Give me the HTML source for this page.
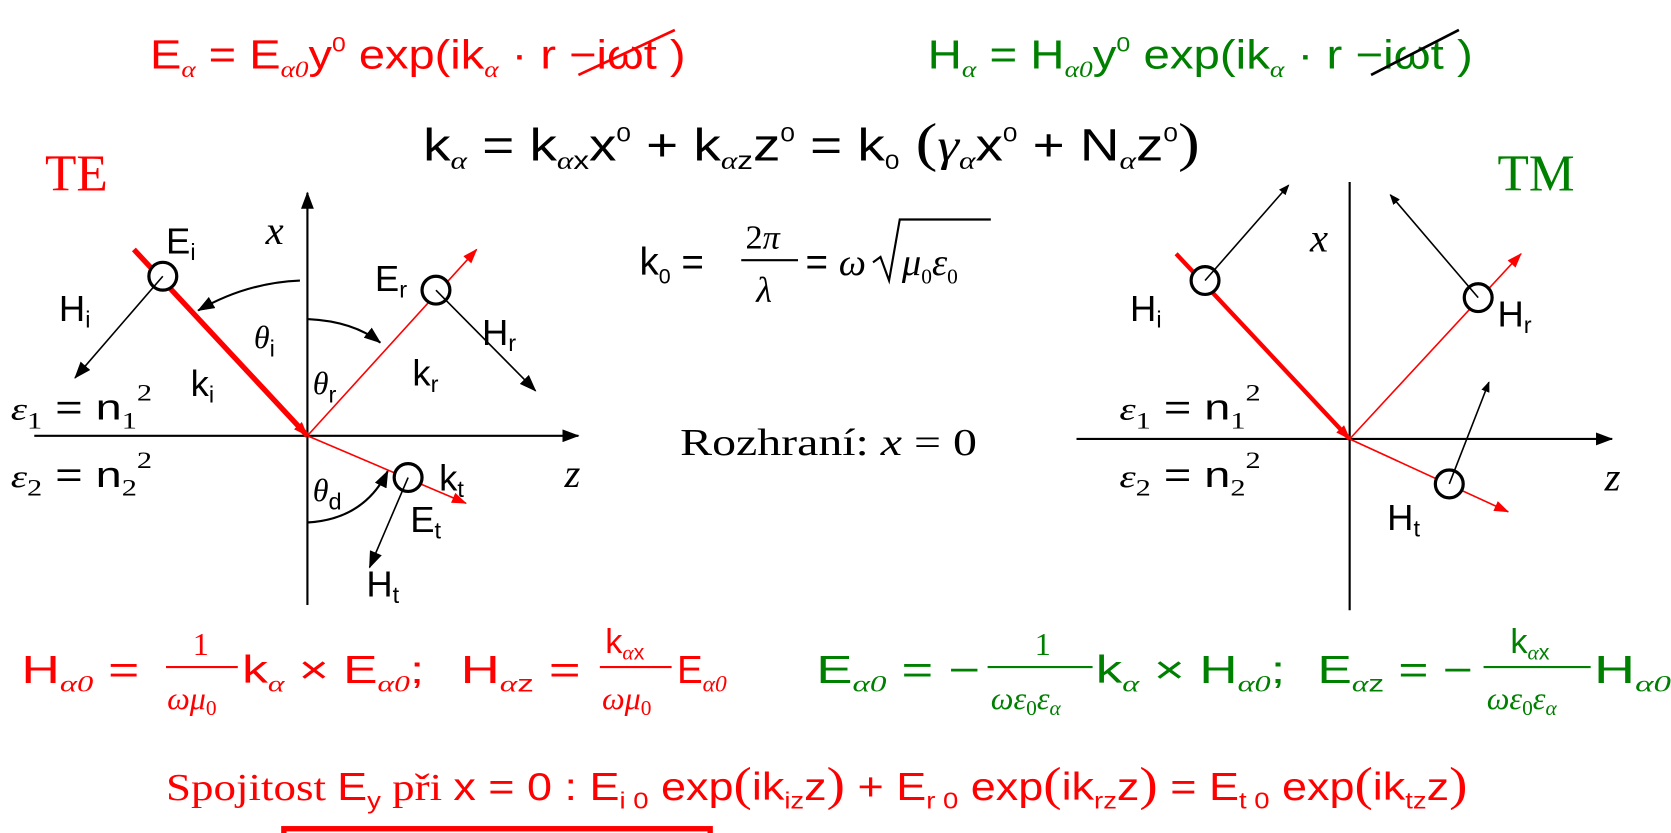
<!DOCTYPE html>
<html><head><meta charset="utf-8"><style>
html,body{margin:0;padding:0;background:#fff;}
svg{display:block}
.s{font-family:"Liberation Sans",sans-serif}
.t{font-family:"Liberation Serif",serif}
.i{font-family:"Liberation Serif",serif;font-style:italic}
</style></head><body>
<svg width="1671" height="833" viewBox="0 0 1560 778" preserveAspectRatio="none" xmlns="http://www.w3.org/2000/svg">
<defs>
<marker id="ab" markerWidth="10" markerHeight="8" refX="9" refY="4" orient="auto" markerUnits="userSpaceOnUse"><path d="M0,0 L10,4 L0,8z" fill="#000"/></marker>
<marker id="ab2" markerWidth="16" markerHeight="12" refX="15" refY="6" orient="auto" markerUnits="userSpaceOnUse"><path d="M0,0 L16,6 L0,12z" fill="#000"/></marker>
<marker id="ar" markerWidth="14" markerHeight="10" refX="13" refY="5" orient="auto" markerUnits="userSpaceOnUse"><path d="M0,0 L14,5 L0,10z" fill="red"/></marker>
</defs>

<g fill="red" class="s" font-size="38">
<text x="140" y="64" textLength="500" lengthAdjust="spacingAndGlyphs">E<tspan class="i" font-size="22" dy="8">α</tspan><tspan dy="-8"> = E</tspan><tspan class="i" font-size="22" dy="8">α0</tspan><tspan dy="-8">y</tspan><tspan font-size="20" dy="-16">0</tspan><tspan dy="16"> exp(ik</tspan><tspan class="i" font-size="22" dy="8">α</tspan><tspan dy="-8"> · r  −iωt )</tspan></text>
<line x1="540" y1="70" x2="630" y2="28" stroke="red" stroke-width="2.5"/>
</g>
<g fill="green" class="s" font-size="38">
<text x="866" y="64" textLength="509" lengthAdjust="spacingAndGlyphs">H<tspan class="i" font-size="22" dy="8">α</tspan><tspan dy="-8"> = H</tspan><tspan class="i" font-size="22" dy="8">α0</tspan><tspan dy="-8">y</tspan><tspan font-size="20" dy="-16">0</tspan><tspan dy="16"> exp(ik</tspan><tspan class="i" font-size="22" dy="8">α</tspan><tspan dy="-8"> · r  −iωt )</tspan></text>
<line x1="1280" y1="70" x2="1362" y2="28" stroke="#000" stroke-width="2.5"/>
</g>
<text x="395" y="150" class="s" font-size="42" fill="#000" textLength="725" lengthAdjust="spacingAndGlyphs">k<tspan class="i" font-size="24" dy="8">α</tspan><tspan dy="-8"> = k</tspan><tspan font-size="24" dy="8"><tspan class="i">α</tspan>x</tspan><tspan dy="-8">x</tspan><tspan font-size="20" dy="-18">0</tspan><tspan dy="18"> + k</tspan><tspan font-size="24" dy="8"><tspan class="i">α</tspan>z</tspan><tspan dy="-8">z</tspan><tspan font-size="20" dy="-18">0</tspan><tspan dy="18"> = k</tspan><tspan font-size="20" dy="8">0</tspan><tspan dy="-8" class="t" font-size="50"> (</tspan><tspan class="i">γ</tspan><tspan class="i" font-size="24" dy="8">α</tspan><tspan dy="-8">x</tspan><tspan font-size="20" dy="-18">0</tspan><tspan dy="18"> + N</tspan><tspan class="i" font-size="24" dy="8">α</tspan><tspan dy="-8">z</tspan><tspan font-size="20" dy="-18">0</tspan><tspan dy="18" class="t" font-size="50">)</tspan></text>

<text x="42" y="178" class="t" font-size="48" fill="red">TE</text>
<text x="1398" y="178" class="t" font-size="48" fill="green">TM</text>

<g fill="#000" font-size="36">
<text x="597" y="257" class="s">k<tspan font-size="20" dy="8">0</tspan><tspan dy="-8"> =</tspan></text>
<text x="696" y="232" class="t" font-size="32">2<tspan class="i">π</tspan></text>
<line x1="692" y1="243" x2="745" y2="243" stroke="#000" stroke-width="2"/>
<text x="706" y="282" class="i" font-size="34">λ</text>
<text x="752" y="257" class="s">= <tspan class="i">ω</tspan></text>
<path d="M815,245 L822,240 L830,262 L840,205 L925,205" fill="none" stroke="#000" stroke-width="2"/>
<text x="842" y="257" class="i">μ<tspan font-size="20" dy="8" class="t" font-style="normal">0</tspan><tspan dy="-8">ε</tspan><tspan font-size="20" dy="8" class="t" font-style="normal">0</tspan></text>
</g>
<text x="635" y="425" class="t" font-size="36" fill="#000" textLength="277" lengthAdjust="spacingAndGlyphs">Rozhraní: <tspan class="i">x</tspan> = 0</text>

<g stroke="#000" fill="none">
<line x1="287" y1="565" x2="287" y2="180" stroke-width="2" marker-end="url(#ab2)"/>
<line x1="32" y1="407" x2="540" y2="407" stroke-width="2" marker-end="url(#ab2)"/>
<line x1="125" y1="233" x2="287" y2="407" stroke="red" stroke-width="5" marker-end="url(#ar)"/>
<line x1="287" y1="407" x2="445" y2="233" stroke="red" stroke-width="1.5" marker-end="url(#ar)"/>
<line x1="287" y1="407" x2="435" y2="470" stroke="red" stroke-width="1.5" marker-end="url(#ar)"/>
<circle cx="152" cy="258" r="13" stroke-width="3" fill="#fff"/>
<circle cx="407" cy="271" r="13" stroke-width="3" fill="#fff"/>
<circle cx="381" cy="446" r="13" stroke-width="3" fill="#fff"/>
<line x1="152" y1="258" x2="70" y2="353" stroke-width="1.5" marker-end="url(#ab2)"/>
<line x1="407" y1="271" x2="500" y2="365" stroke-width="1.5" marker-end="url(#ab2)"/>
<line x1="381" y1="446" x2="345" y2="530" stroke-width="1.5" marker-end="url(#ab2)"/>
<path d="M280,262 Q230,264 185,290" stroke-width="2" marker-end="url(#ab2)"/>
<path d="M287,298 Q330,300 355,320" stroke-width="2" marker-end="url(#ab2)"/>
<path d="M287,488 Q340,485 362,440" stroke-width="2" marker-end="url(#ab2)"/>
</g>
<g fill="#000" class="s" font-size="34">
<text x="155" y="237">E<tspan font-size="22" dy="6">i</tspan></text>
<text x="55" y="300">H<tspan font-size="22" dy="6">i</tspan></text>
<text x="178" y="370">k<tspan font-size="22" dy="6">i</tspan></text>
<text x="350" y="272">E<tspan font-size="22" dy="6">r</tspan></text>
<text x="450" y="322">H<tspan font-size="22" dy="6">r</tspan></text>
<text x="385" y="360">k<tspan font-size="22" dy="6">r</tspan></text>
<text x="410" y="458">k<tspan font-size="22" dy="6">t</tspan></text>
<text x="383" y="497">E<tspan font-size="22" dy="6">t</tspan></text>
<text x="342" y="557">H<tspan font-size="22" dy="6">t</tspan></text>
<text x="237" y="325" class="i" font-size="30">θ<tspan class="s" font-style="normal" font-size="22" dy="8">i</tspan></text>
<text x="292" y="368" class="i" font-size="30">θ<tspan class="s" font-style="normal" font-size="22" dy="8">r</tspan></text>
<text x="292" y="468" class="i" font-size="30">θ<tspan class="s" font-style="normal" font-size="22" dy="8">d</tspan></text>
<text x="248" y="228" class="i" font-size="38">x</text>
<text x="527" y="455" class="i" font-size="38">z</text>
<text x="10" y="392" textLength="132" lengthAdjust="spacingAndGlyphs"><tspan class="i" font-size="30">ε</tspan><tspan class="t" font-size="22" dy="8">1</tspan><tspan dy="-8"> = n</tspan><tspan class="t" font-size="22" dy="8">1</tspan><tspan class="t" font-size="22" dy="-26">2</tspan></text>
<text x="10" y="455" textLength="132" lengthAdjust="spacingAndGlyphs"><tspan class="i" font-size="30">ε</tspan><tspan class="t" font-size="22" dy="8">2</tspan><tspan dy="-8"> = n</tspan><tspan class="t" font-size="22" dy="8">2</tspan><tspan class="t" font-size="22" dy="-26">2</tspan></text>
</g>

<g stroke="#000" fill="none">
<line x1="1260" y1="570" x2="1260" y2="170" stroke-width="2"/>
<line x1="1005" y1="410" x2="1505" y2="410" stroke-width="2" marker-end="url(#ab2)"/>
<line x1="1098" y1="237" x2="1260" y2="410" stroke="red" stroke-width="4" marker-end="url(#ar)"/>
<line x1="1260" y1="410" x2="1420" y2="237" stroke="red" stroke-width="1.5" marker-end="url(#ar)"/>
<line x1="1260" y1="410" x2="1408" y2="478" stroke="red" stroke-width="1.5" marker-end="url(#ar)"/>
<circle cx="1125" cy="262" r="13" stroke-width="3" fill="#fff"/>
<circle cx="1380" cy="278" r="13" stroke-width="3" fill="#fff"/>
<circle cx="1353" cy="452" r="13" stroke-width="3" fill="#fff"/>
<line x1="1125" y1="262" x2="1203" y2="173" stroke-width="1.5" marker-end="url(#ab)"/>
<line x1="1380" y1="278" x2="1298" y2="182" stroke-width="1.5" marker-end="url(#ab)"/>
<line x1="1353" y1="452" x2="1390" y2="357" stroke-width="1.5" marker-end="url(#ab)"/>
</g>
<g fill="#000" class="s" font-size="34">
<text x="1055" y="300">H<tspan font-size="22" dy="6">i</tspan></text>
<text x="1398" y="305">H<tspan font-size="22" dy="6">r</tspan></text>
<text x="1295" y="495">H<tspan font-size="22" dy="6">t</tspan></text>
<text x="1223" y="235" class="i" font-size="38">x</text>
<text x="1498" y="458" class="i" font-size="38">z</text>
<text x="1045" y="392" textLength="132" lengthAdjust="spacingAndGlyphs"><tspan class="i" font-size="30">ε</tspan><tspan class="t" font-size="22" dy="8">1</tspan><tspan dy="-8"> = n</tspan><tspan class="t" font-size="22" dy="8">1</tspan><tspan class="t" font-size="22" dy="-26">2</tspan></text>
<text x="1045" y="455" textLength="132" lengthAdjust="spacingAndGlyphs"><tspan class="i" font-size="30">ε</tspan><tspan class="t" font-size="22" dy="8">2</tspan><tspan dy="-8"> = n</tspan><tspan class="t" font-size="22" dy="8">2</tspan><tspan class="t" font-size="22" dy="-26">2</tspan></text>
</g>

<g fill="red" class="s" font-size="36">
<text x="20" y="638" textLength="110" lengthAdjust="spacingAndGlyphs">H<tspan class="i" font-size="22" dy="8">α0</tspan><tspan dy="-8"> =</tspan></text>
<text x="180" y="612" class="t" font-size="30">1</text>
<line x1="155" y1="623" x2="222" y2="623" stroke="red" stroke-width="2"/>
<text x="156" y="662" class="i" font-size="30">ωμ<tspan class="t" font-style="normal" font-size="20" dy="6">0</tspan></text>
<text x="226" y="638" textLength="170" lengthAdjust="spacingAndGlyphs">k<tspan class="i" font-size="22" dy="8">α</tspan><tspan dy="-8"> × E</tspan><tspan class="i" font-size="22" dy="8">α0</tspan><tspan dy="-8">;</tspan></text>
<text x="430" y="638" textLength="112" lengthAdjust="spacingAndGlyphs">H<tspan font-size="22" dy="8"><tspan class="i">α</tspan>z</tspan><tspan dy="-8"> =</tspan></text>
<text x="565" y="610" font-size="32">k<tspan font-size="20" dy="6"><tspan class="i">α</tspan>x</tspan></text>
<line x1="560" y1="623" x2="627" y2="623" stroke="red" stroke-width="2"/>
<text x="562" y="662" class="i" font-size="30">ωμ<tspan class="t" font-style="normal" font-size="20" dy="6">0</tspan></text>
<text x="632" y="638">E<tspan class="i" font-size="22" dy="8">α0</tspan></text>
</g>
<g fill="green" class="s" font-size="36">
<text x="762" y="638" textLength="153" lengthAdjust="spacingAndGlyphs">E<tspan class="i" font-size="22" dy="8">α0</tspan><tspan dy="-8"> = −</tspan></text>
<text x="966" y="612" class="t" font-size="30">1</text>
<line x1="922" y1="623" x2="1020" y2="623" stroke="green" stroke-width="2"/>
<text x="925" y="662" class="i" font-size="30">ωε<tspan class="t" font-style="normal" font-size="20" dy="6">0</tspan><tspan dy="-6">ε</tspan><tspan font-size="20" dy="6">α</tspan></text>
<text x="1023" y="638" textLength="177" lengthAdjust="spacingAndGlyphs">k<tspan class="i" font-size="22" dy="8">α</tspan><tspan dy="-8"> × H</tspan><tspan class="i" font-size="22" dy="8">α0</tspan><tspan dy="-8">;</tspan></text>
<text x="1230" y="638" textLength="145" lengthAdjust="spacingAndGlyphs">E<tspan font-size="22" dy="8"><tspan class="i">α</tspan>z</tspan><tspan dy="-8"> = −</tspan></text>
<text x="1410" y="610" font-size="32">k<tspan font-size="20" dy="6"><tspan class="i">α</tspan>x</tspan></text>
<line x1="1385" y1="623" x2="1485" y2="623" stroke="green" stroke-width="2"/>
<text x="1388" y="662" class="i" font-size="30">ωε<tspan class="t" font-style="normal" font-size="20" dy="6">0</tspan><tspan dy="-6">ε</tspan><tspan font-size="20" dy="6">α</tspan></text>
<text x="1488" y="638" textLength="72" lengthAdjust="spacingAndGlyphs">H<tspan class="i" font-size="22" dy="8">α0</tspan></text>
</g>
<text x="155" y="747" fill="red" class="s" font-size="36" textLength="1215" lengthAdjust="spacingAndGlyphs"><tspan class="t">Spojitost </tspan>E<tspan font-size="22" dy="8">y</tspan><tspan dy="-8" class="t"> při </tspan>x = 0 : E<tspan font-size="22" dy="8">i 0</tspan><tspan dy="-8"> exp</tspan><tspan class="t" font-size="44">(</tspan>ik<tspan font-size="22" dy="8">iz</tspan><tspan dy="-8">z</tspan><tspan class="t" font-size="44">)</tspan> + E<tspan font-size="22" dy="8">r 0</tspan><tspan dy="-8"> exp</tspan><tspan class="t" font-size="44">(</tspan>ik<tspan font-size="22" dy="8">rz</tspan><tspan dy="-8">z</tspan><tspan class="t" font-size="44">)</tspan> = E<tspan font-size="22" dy="8">t 0</tspan><tspan dy="-8"> exp</tspan><tspan class="t" font-size="44">(</tspan>ik<tspan font-size="22" dy="8">tz</tspan><tspan dy="-8">z</tspan><tspan class="t" font-size="44">)</tspan></text>

<g fill="none" stroke="red">
<rect x="265" y="774" width="398" height="10" stroke-width="5"/>
<rect x="271" y="780" width="386" height="6" stroke-width="1.5"/>
</g>
</svg>
</body></html>
